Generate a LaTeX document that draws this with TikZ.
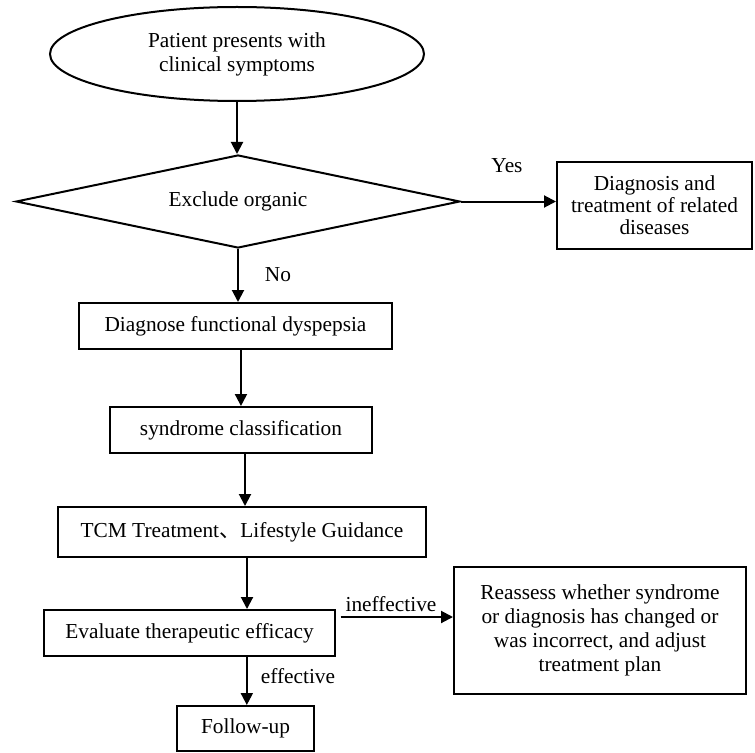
\documentclass[tikz,border=0pt]{standalone}
\usepackage{fontspec}
\setmainfont{Liberation Serif}
\newfontfamily\cjk{Noto Sans CJK SC}
\usetikzlibrary{shapes.geometric,arrows.meta}
\tikzset{
  every node/.style={font=\fontsize{16pt}{18pt}\selectfont},
  boxnode/.style={draw, line width=1.5pt, rectangle, inner sep=0pt, align=center},
  arr/.style={line width=1.5pt, -{Triangle[length=9pt,width=9pt]}},
  lbl/.style={inner sep=0pt}
}
\begin{document}
\begin{tikzpicture}[x=0.75pt,y=-0.75pt]
\useasboundingbox[fill=white] (0,0) rectangle (755,752);
% start ellipse
\node[draw, line width=1.5pt, ellipse, inner sep=0pt, align=center,
      minimum width=280.5pt, minimum height=70.5pt] (ell) at (237,54)
      {Patient presents with\\clinical symptoms};
% decision diamond
\node[draw, line width=1.5pt, diamond, shape aspect=4.77, inner sep=0pt,
      minimum width=333pt, minimum height=69.75pt] (dia) at (238,201.5) {Exclude organic};
% boxes
\node[boxnode, minimum width=146.25pt, minimum height=65.25pt,
      font=\fontsize{16pt}{16.5pt}\selectfont] (dx) at (654.5,205.5)
      {Diagnosis and\\treatment of related\\diseases};
\node[boxnode, minimum width=234.75pt, minimum height=34.5pt] (diag) at (235.5,326) {Diagnose functional dyspepsia};
\node[boxnode, minimum width=196.5pt, minimum height=34.5pt] (synd) at (241,430) {syndrome classification};
\node[boxnode, minimum width=276pt, minimum height=37.5pt] (tcm) at (242,532) {TCM Treatment{\cjk 、}Lifestyle Guidance};
\node[boxnode, minimum width=218.25pt, minimum height=34.5pt] (eval) at (189.5,633) {Evaluate therapeutic efficacy};
\node[boxnode, minimum width=102.75pt, minimum height=33.75pt] (fu) at (245.5,728.5) {Follow-up};
\node[boxnode, minimum width=219pt, minimum height=95.25pt] (rea) at (600,630.5)
      {Reassess whether syndrome\\or diagnosis has changed or\\was incorrect, and adjust\\treatment plan};
% connectors
\draw[arr] (ell.south) -- (ell.south |- dia.north);
\draw[arr] (dia.south) -- (dia.south |- diag.north);
\draw[arr] ([xshift=4.1pt]diag.south) -- ([xshift=4.1pt]diag.south |- synd.north);
\draw[arr] ([xshift=3pt]synd.south) -- ([xshift=3pt]synd.south |- tcm.north);
\draw[arr] ([xshift=3.75pt]tcm.south) -- ([xshift=3.75pt]tcm.south |- eval.north);
\draw[arr] ([xshift=43pt]eval.south) -- ([xshift=43pt]eval.south |- fu.north);
\draw[arr] (dia.east) -- (dia.east -| dx.west);
\draw[arr] ([xshift=3.5pt,yshift=12pt]eval.east) -- ([yshift=12pt]eval.east -| rea.west);
% labels
\node[lbl] (yes) at (507,166) {Yes};
\node[lbl] (no) at (278,275) {No};
\node[lbl] (ineff) at (391,604) {ineffective};
\node[lbl] (eff) at (298,676) {effective};
\end{tikzpicture}
\end{document}
